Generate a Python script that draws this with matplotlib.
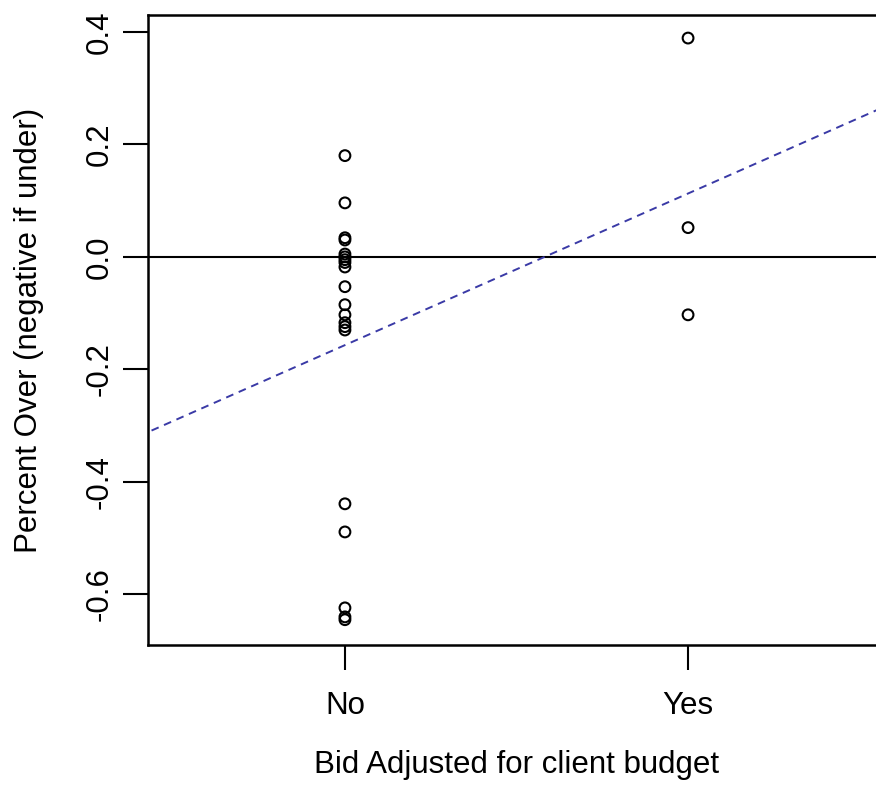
import numpy as np
import matplotlib.pyplot as plt

plt.rcParams['font.family'] = ['Liberation Sans', 'DejaVu Sans']

# percent over (negative if under), grouped by whether the bid was adjusted
no_vals = [0.18, 0.096, 0.034, 0.030, 0.005, 0.0, -0.005, -0.010, -0.018,
           -0.053, -0.085, -0.103, -0.117, -0.124, -0.130,
           -0.439, -0.489, -0.624, -0.640, -0.645]
yes_vals = [0.389, 0.052, -0.103]
categories = ["No", "Yes"]
y_ticks = [0.4, 0.2, 0.0, -0.2, -0.4, -0.6]

x = np.array([0] * len(no_vals) + [1] * len(yes_vals))
y = np.array(no_vals + yes_vals)
slope, intercept = np.polyfit(x, y, 1)

fig = plt.figure(figsize=(8.76, 7.94), dpi=100)
ax = fig.add_axes([148 / 876, 1 - 645 / 794, 737 / 876, 630 / 794])

ax.scatter(x, y, s=60, facecolors='none', edgecolors='black', linewidths=1.5, zorder=3)
ax.axhline(0, color='black', lw=1.5)
xl = np.array([-0.6, 1.6])
ax.plot(xl, intercept + slope * xl, color='#3a3aa6', lw=1.4, ls=(0, (4, 3)))

ax.set_xlim(-0.574, 1.574)
ax.set_ylim(-0.690, 0.430)
ax.set_xticks([0, 1])
ax.set_xticklabels(categories)
ax.set_yticks(y_ticks)
ax.set_yticklabels([f"{v:.1f}" for v in y_ticks], rotation=90, va='center')
ax.tick_params(axis='both', length=18, width=1.5, labelsize=22.5, colors='black')
ax.tick_params(axis='x', pad=15)
ax.tick_params(axis='y', pad=6)
for side in ax.spines.values():
    side.set_linewidth(1.8)

ax.set_xlabel("Bid Adjusted for client budget", fontsize=22.5, labelpad=21)
ax.set_ylabel("Percent Over (negative if under)", fontsize=22.5, labelpad=29)

fig.savefig("out.png", dpi=100)
